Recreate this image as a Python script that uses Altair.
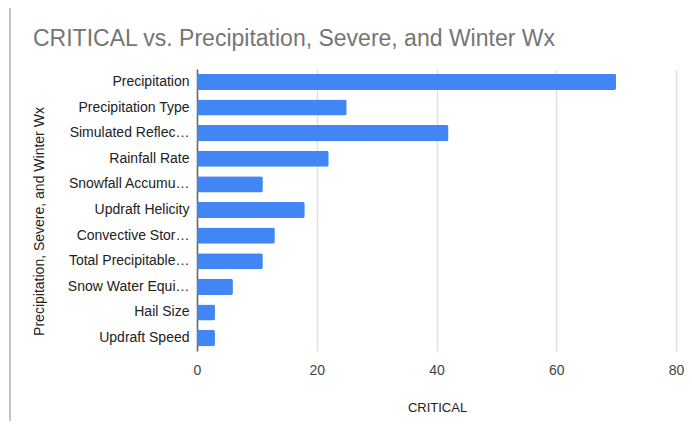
import altair as alt
import pandas as pd

categories = [
    "Precipitation",
    "Precipitation Type",
    "Simulated Reflec…",
    "Rainfall Rate",
    "Snowfall Accumu…",
    "Updraft Helicity",
    "Convective Stor…",
    "Total Precipitable…",
    "Snow Water Equi…",
    "Hail Size",
    "Updraft Speed",
]
critical = [70, 25, 42, 22, 11, 18, 13, 11, 6, 3, 3]
x_ticks = [0, 20, 40, 60, 80]

df = pd.DataFrame({"category": categories, "CRITICAL": critical})

FONT = "Liberation Sans"

bars = alt.Chart(df).mark_bar(color="#4285F4", cornerRadius=2).encode(
    x=alt.X(
        "CRITICAL:Q",
        scale=alt.Scale(domain=[0, 80], nice=False),
        axis=alt.Axis(
            values=x_ticks,
            title="CRITICAL",
            titleFont=FONT,
            titleFontSize=13,
            titleFontWeight="normal",
            titleColor="#222222",
            titleX=240,
            titleY=56,
            titleAlign="center",
            titleBaseline="middle",
            labelFont=FONT,
            labelFontSize=14,
            labelColor="#444444",
            labelPadding=12,
            labelFlush=False,
            ticks=False,
            domain=False,
            grid=True,
            gridColor="#e0e0e0",
            gridWidth=1.5,
        ),
    ),
    y=alt.Y(
        "category:N",
        sort=categories,
        scale=alt.Scale(paddingInner=0.375, paddingOuter=0.19),
        axis=alt.Axis(
            title="Precipitation, Severe, and Winter Wx",
            titleFont=FONT,
            titleFontSize=14,
            titleFontWeight="normal",
            titleColor="#222222",
            titleAngle=270,
            titleX=-158,
            titleY=152,
            titleAlign="center",
            titleBaseline="middle",
            labelFont=FONT,
            labelFontSize=14,
            labelColor="#222222",
            labelPadding=8,
            labelLimit=200,
            ticks=False,
            domain=True,
            domainColor="#666666",
            domainWidth=1.5,
            grid=False,
        ),
    ),
)

# chart frame (decoration): left border of the embedded chart box
frame_left = alt.Chart(df).mark_rule(color="#c4c4c4", strokeWidth=2).encode(
    x=alt.value(-187), y=alt.value(-61), y2=alt.value(352)
)

chart = alt.layer(frame_left, bars).properties(
    width=479,
    height=282,
    autosize=alt.AutoSizeParams(type="none"),
    padding={"left": 189, "top": 61, "right": 8, "bottom": 70},
    background="white",
    title=alt.TitleParams(
        "CRITICAL vs. Precipitation, Severe, and Winter Wx",
        anchor="start",
        frame="group",
        font=FONT,
        fontSize=23,
        fontWeight="normal",
        color="#757575",
        baseline="alphabetic",
        offset=-62,
        dx=-164,
    ),
).configure_view(stroke=None)

chart.save("out.html", embed_options={"renderer": "svg", "actions": False})
